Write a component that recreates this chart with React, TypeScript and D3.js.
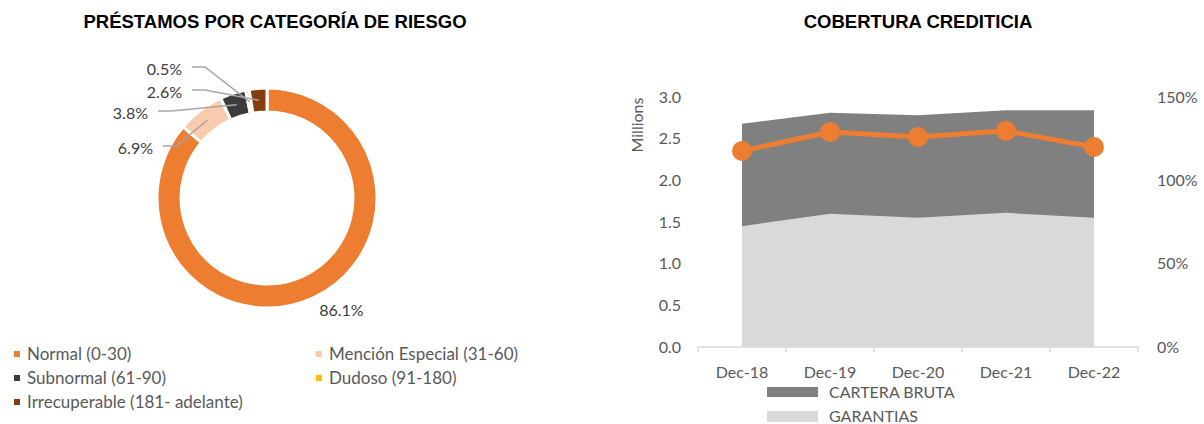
import React from 'react'
import * as d3 from 'd3'

// left chart: risk categories
const riskCategories = ['Normal (0-30)', 'Mención Especial (31-60)', 'Subnormal (61-90)', 'Dudoso (91-180)', 'Irrecuperable (181- adelante)']
const riskShares = [86.1, 6.9, 3.8, 0.5, 2.6]
const riskColors = ['#ED7D31', '#F8CBAD', '#3B3B3B', '#FFC000', '#843C0C']

// right chart: coverage
const periods = ['Dec-18', 'Dec-19', 'Dec-20', 'Dec-21', 'Dec-22']
const carteraBruta = [2.68, 2.81, 2.78, 2.84, 2.84]
const garantias = [1.45, 1.60, 1.55, 1.61, 1.55]
const cobertura = [117.6, 129, 126, 129.7, 120]
const leftTicks = [0, 0.5, 1, 1.5, 2, 2.5, 3]
const rightTicks = [0, 50, 100, 150]

const W = 1204
const H = 424
const labelFont = 'Lato, "Liberation Sans", sans-serif'
const titleFont = '"Liberation Sans", Arial, sans-serif'
const textGrey = '#595959'

// callout label layout (relative to donut center), index matches riskShares
const callouts = [
  null,
  { tx: -114, ty: -50 },
  { tx: -119, ty: -85 },
  { tx: -85, ty: -129 },
  { tx: -85, ty: -106 },
]

function Donut() {
  const cx = 267
  const cy = 198
  const outer = 110
  const inner = 86
  const pie = d3.pie<number>().sort(null).value(d => d)
  const arcs = pie(riskShares)
  const arc = d3.arc<d3.PieArcDatum<number>>().innerRadius(inner).outerRadius(outer)

  return (
    <g transform={`translate(${cx},${cy})`}>
      {arcs.map((a, i) => (
        <path key={i} d={arc(a) || ''} fill={riskColors[i]} stroke="#fff" strokeWidth={3} />
      ))}
      {arcs.map((a, i) => {
        const label = riskShares[i].toFixed(1) + '%'
        const c = callouts[i]
        if (!c) {
          const mid = (a.startAngle + a.endAngle) / 2
          const r = outer + 14
          return (
            <text key={i} x={r * Math.sin(mid)} y={-r * Math.cos(mid)} dy="0.35em"
              fontFamily={labelFont} fontSize={16} fill="#404040">{label}</text>
          )
        }
        const [px, py] = arc.centroid(a)
        return (
          <g key={i}>
            <polyline points={`${c.tx + 10},${c.ty - 2} ${c.tx + 23},${c.ty - 2} ${px},${py}`}
              fill="none" stroke="#A6A6A6" strokeWidth={1.5} />
            <text x={c.tx} y={c.ty} dy="0.35em" textAnchor="end"
              fontFamily={labelFont} fontSize={16} fill="#404040">{label}</text>
          </g>
        )
      })}
    </g>
  )
}

function RiskLegend() {
  const cols = [14, 316]
  const rows = [354, 378, 402]
  return (
    <g fontFamily={labelFont} fontSize={17} fill={textGrey}>
      {riskCategories.map((name, i) => {
        const x = cols[i % 2]
        const y = rows[Math.floor(i / 2)]
        return (
          <g key={name}>
            <rect x={x} y={y - 3} width={6} height={6} fill={riskColors[i]} />
            <text x={x + 13} y={y} dy="0.35em">{name}</text>
          </g>
        )
      })}
    </g>
  )
}

function Coverage() {
  const x = d3.scaleBand().domain(periods).range([698, 1138])
  const y = d3.scaleLinear().domain([0, 3]).range([347, 97])
  const y2 = d3.scaleLinear().domain([0, 150]).range([347, 97])
  const cxOf = (i: number) => (x(periods[i]) as number) + x.bandwidth() / 2

  const area = d3.area<number>()
    .x((_, i) => cxOf(i))
    .y0(y(0))
    .y1(d => y(d))
  const line = d3.line<number>()
    .x((_, i) => cxOf(i))
    .y(d => y2(d))

  const [x0, x1] = x.range()
  const ticksX = periods.map(p => x(p) as number).concat([x1])

  return (
    <g>
      <path d={area(carteraBruta) || ''} fill="#808080" />
      <path d={area(garantias) || ''} fill="#D9D9D9" />

      <line x1={x0} x2={x1} y1={y(0)} y2={y(0)} stroke="#D9D9D9" strokeWidth={1.5} />
      {ticksX.map((t, i) => (
        <line key={i} x1={t} x2={t} y1={y(0)} y2={y(0) + 5} stroke="#D9D9D9" strokeWidth={1.5} />
      ))}

      <path d={line(cobertura) || ''} fill="none" stroke="#ED7D31" strokeWidth={5} />
      {cobertura.map((v, i) => (
        <circle key={i} cx={cxOf(i)} cy={y2(v)} r={10} fill="#ED7D31" />
      ))}

      <g fontFamily={labelFont} fontSize={16} fill={textGrey}>
        {leftTicks.map(t => (
          <text key={t} x={681} y={y(t)} dy="0.35em" textAnchor="end">{t.toFixed(1)}</text>
        ))}
        {rightTicks.map(t => (
          <text key={t} x={1157} y={y2(t)} dy="0.35em">{t + '%'}</text>
        ))}
        {periods.map((p, i) => (
          <text key={p} x={cxOf(i)} y={372} dy="0.35em" textAnchor="middle">{p}</text>
        ))}
        <text transform="translate(637,125) rotate(-90)" dy="0.35em" textAnchor="middle">Millions</text>

        <rect x={767} y={387} width={51} height={10} fill="#808080" />
        <text x={829} y={392} dy="0.35em">CARTERA BRUTA</text>
        <rect x={767} y={411} width={51} height={11} fill="#D9D9D9" />
        <text x={829} y={416} dy="0.35em">GARANTIAS</text>
      </g>
    </g>
  )
}

export default function App() {
  return (
    <svg width={W} height={H} style={{ position: 'absolute', left: 0, top: 0, background: '#fff' }}>
      <g fontFamily={titleFont} fontWeight="bold" fontSize={18.5} fill="#000" textAnchor="middle">
        <text x={275} y={28}>PRÉSTAMOS POR CATEGORÍA DE RIESGO</text>
        <text x={918} y={28}>COBERTURA CREDITICIA</text>
      </g>
      <Donut />
      <RiskLegend />
      <Coverage />
    </svg>
  )
}
